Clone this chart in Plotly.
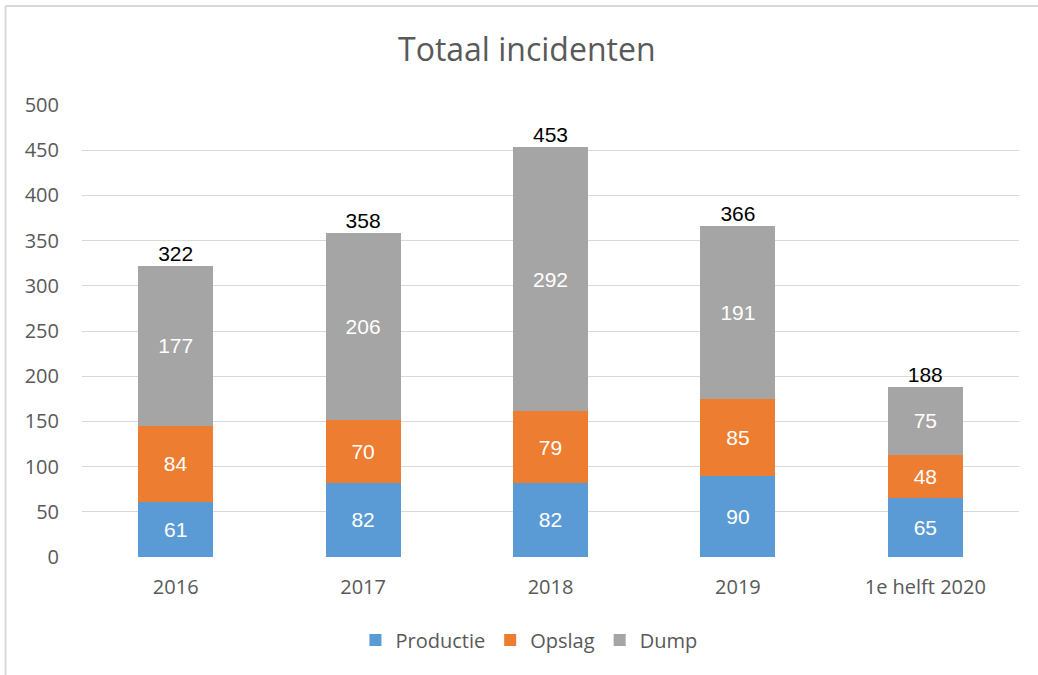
import plotly.graph_objects as go

categories = ["2016", "2017", "2018", "2019", "1e helft 2020"]
productie = [61, 82, 82, 90, 65]
opslag = [84, 70, 79, 85, 48]
dump = [177, 206, 292, 191, 75]
totals = [322, 358, 453, 366, 188]

colors = {"Productie": "#5B9BD5", "Opslag": "#ED7D31", "Dump": "#A5A5A5"}
label_font = dict(family="Liberation Sans, Arial", size=21, color="white")

fig = go.Figure()
for name, vals in [("Productie", productie), ("Opslag", opslag), ("Dump", dump)]:
    fig.add_trace(go.Bar(
        x=categories, y=vals, name=name,
        marker=dict(color=colors[name], line=dict(width=0)),
        text=[str(v) for v in vals], textposition="inside",
        insidetextanchor="middle", textfont=label_font,
        hoverinfo="skip",
    ))

fig.add_trace(go.Scatter(
    x=categories, y=totals, mode="text", text=[str(v) for v in totals],
    textposition="top center", showlegend=False, cliponaxis=False,
    textfont=dict(family="Liberation Sans, Arial", size=21, color="black"),
    hoverinfo="skip",
))

L, R, T, B = 81.5, 19, 105, 118
W, H = 1038, 675
pw = W - L - R
ph = H - T - B

fig.update_layout(
    width=W, height=H,
    margin=dict(l=L, r=R, t=T, b=B, autoexpand=False),
    barmode="stack", bargap=0.6,
    plot_bgcolor="white", paper_bgcolor="white",
    font=dict(family="Open Sans", color="#595959"),
    title=dict(text="Totaal incidenten", x=0.5075, xanchor="center",
               y=1 - 50 / H, yanchor="middle",
               font=dict(family="Open Sans", size=32, color="#595959")),
    xaxis=dict(showgrid=False, showline=False, ticks="",
               tickfont=dict(size=20, color="#595959"), ticklabelstandoff=16),
    yaxis=dict(range=[0, 500], dtick=50, showgrid=True, gridcolor="#D9D9D9",
               gridwidth=1.3, zeroline=False, showline=False, ticks="",
               tickfont=dict(size=20, color="#595959"), ticklabelstandoff=22),
    legend=dict(orientation="h", x=0.477, xanchor="center", y=(557 - 640) / ph,
                yanchor="middle", font=dict(size=20, color="#595959"),
                itemwidth=30, traceorder="normal"),
    showlegend=True,
    shapes=[
        dict(type="line", xref="paper", yref="paper",
             x0=(5 - L) / pw, x1=(W + 5 - L) / pw,
             y0=1 + (T - 6) / ph, y1=1 + (T - 6) / ph,
             line=dict(color="#D9D9D9", width=2)),
        dict(type="line", xref="paper", yref="paper",
             x0=(5 - L) / pw, x1=(5 - L) / pw,
             y0=1 + (T - 6) / ph, y1=-(B + 5) / ph,
             line=dict(color="#D9D9D9", width=2)),
    ],
)

fig.write_html("out.html", config={"displayModeBar": False},
               post_script="document.body.style.margin='0';document.body.style.overflow='hidden';")
